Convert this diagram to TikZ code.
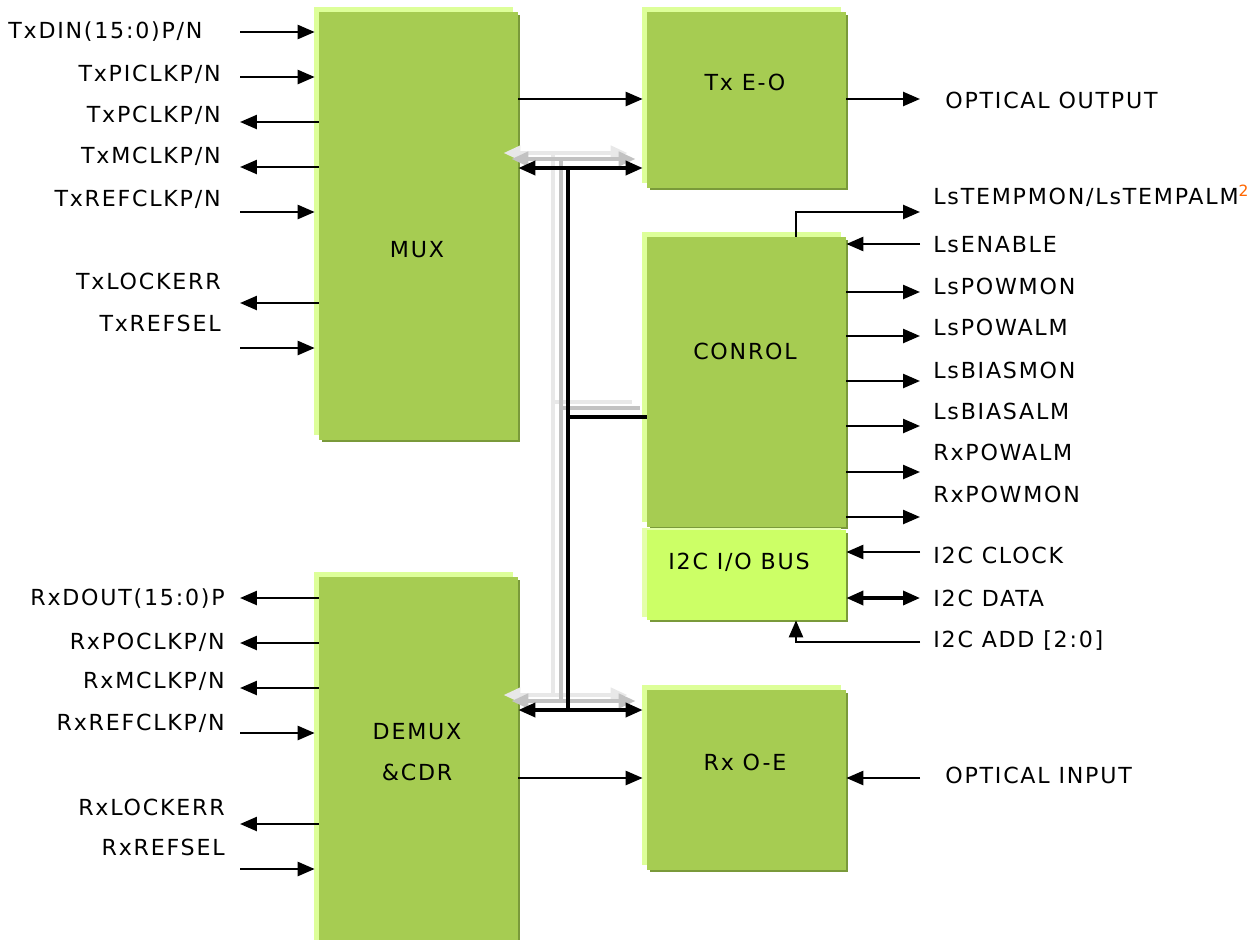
\documentclass[tikz,border=0pt]{standalone}
\usepackage{fontspec}
\setmainfont{DejaVu Sans}[LetterSpace=8]
\usetikzlibrary{arrows.meta,shadows}

\definecolor{boxgreen}{HTML}{A6CC52}
\definecolor{boxlight}{HTML}{DDFF99}
\definecolor{boxdark}{HTML}{7A9A3A}
\definecolor{i2cgreen}{HTML}{CCFF66}
\definecolor{i2clight}{HTML}{E4FFAA}
\definecolor{supnote}{HTML}{FF6600}

\tikzset{
  blk/.style={fill=boxgreen, inner sep=0pt, minimum width=3.98cm,
    general shadow={fill=boxdark, shadow xshift=0.05cm, shadow yshift=-0.05cm},
    general shadow={fill=boxlight, shadow xshift=-0.1cm, shadow yshift=0.1cm}},
  i2cblk/.style={fill=i2cgreen, inner sep=0pt, minimum width=3.98cm,
    general shadow={fill=boxdark, shadow xshift=0.05cm, shadow yshift=-0.05cm},
    general shadow={fill=i2clight, shadow xshift=-0.1cm, shadow yshift=0.05cm}},
  lbl/.style={inner sep=0pt, text height=9.2pt, text depth=0pt,
    font=\fontsize{12.6}{15}\selectfont},
  boxtxt/.style={inner sep=0pt, align=center, font=\fontsize{12.6}{23.2}\selectfont},
  sig/.style={line width=0.05cm},
  bus/.style={line width=0.07cm},
  ghost/.style={line width=0.09cm},
  tobox/.style={shorten >=0.08cm},
}

\begin{document}
\begin{tikzpicture}[x=0.02cm, y=-0.02cm,
    >={Triangle[length=0.34cm,width=0.28cm]}]
  \useasboundingbox (0,0) rectangle (1248,940);
  \clip (0,0) rectangle (1248,940);

  % blocks
  \node[blk, minimum height=8.56cm] (mux) at (418.5,226) {};
  \node[blk, minimum height=7.36cm] (demux) at (418.5,761) {};
  \node[blk, minimum height=3.52cm] (txeo) at (746.5,100) {};
  \node[blk, minimum height=5.8cm] (ctrl) at (746.5,382) {};
  \node[i2cblk, minimum height=1.8cm] (i2c) at (746.5,575) {};
  \node[blk, minimum height=3.6cm] (rxoe) at (746.5,780) {};

  \node[lbl] (muxtxt) at (417,249) {MUX};
  \node[boxtxt] (demuxtxt) at (417,752) {DEMUX\\\&CDR};
  \node[lbl] (txeotxt) at (745,82) {Tx E-O};
  \node[lbl] (ctrltxt) at (745,351) {CONROL};
  \node[lbl] (i2ctxt) at (739,561) {I2C I/O BUS};
  \node[lbl] (rxoetxt) at (745,762) {Rx O-E};

  % bus between the blocks
  \coordinate (busT) at (568,168);
  \coordinate (busM) at (568,417);
  \coordinate (busB) at (568,710);
  \coordinate (datT) at (568,99);
  \coordinate (datB) at (568,778);

  \foreach \dx/\dy/\gr in {-15/-15/9, -7/-9/24} {
    \begin{scope}[transform canvas={shift={(\dx,\dy)}}, black!\gr]
      \draw[ghost, <->, tobox] (mux.east |- busT) -- (txeo.west |- busT);
      \draw[ghost, <->, tobox] (demux.east |- busB) -- (rxoe.west |- busB);
      \draw[ghost] (busT) -- (busB);
      \draw[ghost] (busM) -- (ctrl.west |- busM);
    \end{scope}
  }

  \draw[bus, <->, tobox] (mux.east |- busT) -- (txeo.west |- busT);
  \draw[bus, <->, tobox] (demux.east |- busB) -- (rxoe.west |- busB);
  \draw[bus] (busT) -- (busB);
  \draw[bus] (busM) -- (ctrl.west |- busM);

  \draw[sig, ->, tobox] (mux.east |- datT) -- (txeo.west |- datT);
  \draw[sig, ->, tobox] (demux.east |- datB) -- (rxoe.west |- datB);

  % MUX side
  \node[lbl, anchor=west] (txdin) at (8,30) {TxDIN(15:0)P/N};
  \node[lbl, anchor=east] (txpiclk) at (221,73) {TxPICLKP/N};
  \node[lbl, anchor=east] (txpclk) at (221,114) {TxPCLKP/N};
  \node[lbl, anchor=east] (txmclk) at (221,155) {TxMCLKP/N};
  \node[lbl, anchor=east] (txrefclk) at (221,198) {TxREFCLKP/N};
  \node[lbl, anchor=east] (txlock) at (221,281) {TxLOCKERR};
  \node[lbl, anchor=east] (txrefsel) at (221,323) {TxREFSEL};

  \coordinate (txdin-e) at (240,32);
  \coordinate (txpiclk-e) at (240,77);
  \coordinate (txpclk-e) at (240,122);
  \coordinate (txmclk-e) at (240,167);
  \coordinate (txrefclk-e) at (240,212);
  \coordinate (txlock-e) at (240,303);
  \coordinate (txrefsel-e) at (240,348);

  \draw[sig, ->, tobox] (txdin-e) -- (txdin-e -| mux.west);
  \draw[sig, ->, tobox] (txpiclk-e) -- (txpiclk-e -| mux.west);
  \draw[sig, <-] (txpclk-e) -- (txpclk-e -| mux.west);
  \draw[sig, <-] (txmclk-e) -- (txmclk-e -| mux.west);
  \draw[sig, ->, tobox] (txrefclk-e) -- (txrefclk-e -| mux.west);
  \draw[sig, <-] (txlock-e) -- (txlock-e -| mux.west);
  \draw[sig, ->, tobox] (txrefsel-e) -- (txrefsel-e -| mux.west);

  % DEMUX side
  \node[lbl, anchor=east] (rxdout) at (225,597) {RxDOUT(15:0)P};
  \node[lbl, anchor=east] (rxpoclk) at (225,641) {RxPOCLKP/N};
  \node[lbl, anchor=east] (rxmclk) at (225,680) {RxMCLKP/N};
  \node[lbl, anchor=east] (rxrefclk) at (225,722) {RxREFCLKP/N};
  \node[lbl, anchor=east] (rxlock) at (225,807) {RxLOCKERR};
  \node[lbl, anchor=east] (rxrefsel) at (225,847) {RxREFSEL};

  \coordinate (rxdout-e) at (240,598);
  \coordinate (rxpoclk-e) at (240,643);
  \coordinate (rxmclk-e) at (240,688);
  \coordinate (rxrefclk-e) at (240,733);
  \coordinate (rxlock-e) at (240,824);
  \coordinate (rxrefsel-e) at (240,869);

  \draw[sig, <-] (rxdout-e) -- (rxdout-e -| demux.west);
  \draw[sig, <-] (rxpoclk-e) -- (rxpoclk-e -| demux.west);
  \draw[sig, <-] (rxmclk-e) -- (rxmclk-e -| demux.west);
  \draw[sig, ->, tobox] (rxrefclk-e) -- (rxrefclk-e -| demux.west);
  \draw[sig, <-] (rxlock-e) -- (rxlock-e -| demux.west);
  \draw[sig, ->, tobox] (rxrefsel-e) -- (rxrefsel-e -| demux.west);

  % optical side
  \node[lbl, anchor=west] (optout) at (945,100) {OPTICAL OUTPUT};
  \node[lbl, anchor=west] (optin) at (945,775) {OPTICAL INPUT};
  \coordinate (optout-e) at (920,99);
  \coordinate (optin-e) at (920,778);
  \draw[sig, ->] (optout-e -| txeo.east) -- (optout-e);
  \draw[sig, ->] (optin-e) -- (optin-e -| rxoe.east);

  % control side
  \node[lbl, anchor=west] (tempmon) at (933,196)
    {LsTEMPMON/LsTEMPALM\textsuperscript{\textcolor{supnote}{2}}};
  \node[lbl, anchor=west] (lsenable) at (933,244) {LsENABLE};
  \node[lbl, anchor=west] (powmon) at (933,286) {LsPOWMON};
  \node[lbl, anchor=west] (powalm) at (933,327) {LsPOWALM};
  \node[lbl, anchor=west] (biasmon) at (933,370) {LsBIASMON};
  \node[lbl, anchor=west] (biasalm) at (933,411) {LsBIASALM};
  \node[lbl, anchor=west] (rxpowalm) at (933,452) {RxPOWALM};
  \node[lbl, anchor=west] (rxpowmon) at (933,494) {RxPOWMON};
  \node[lbl, anchor=west] (i2cclk) at (933,555) {I2C CLOCK};
  \node[lbl, anchor=west] (i2cdata) at (933,598) {I2C DATA};
  \node[lbl, anchor=west] (i2cadd) at (933,639) {I2C ADD [2:0]};

  \coordinate (tempmon-e) at (920,212);
  \coordinate (lsenable-e) at (920,244);
  \coordinate (powmon-e) at (920,292);
  \coordinate (powalm-e) at (920,336);
  \coordinate (biasmon-e) at (920,381);
  \coordinate (biasalm-e) at (920,426);
  \coordinate (rxpowalm-e) at (920,472);
  \coordinate (rxpowmon-e) at (920,517);
  \coordinate (i2cclk-e) at (920,552);
  \coordinate (i2cdata-e) at (920,598);
  \coordinate (i2cadd-e) at (920,642);
  \coordinate (i2c-tap) at (796,642);

  \draw[sig, ->] (ctrl.north -| i2c-tap) |- (tempmon-e);
  \draw[sig, ->] (lsenable-e) -- (lsenable-e -| ctrl.east);
  \draw[sig, ->] (powmon-e -| ctrl.east) -- (powmon-e);
  \draw[sig, ->] (powalm-e -| ctrl.east) -- (powalm-e);
  \draw[sig, ->] (biasmon-e -| ctrl.east) -- (biasmon-e);
  \draw[sig, ->] (biasalm-e -| ctrl.east) -- (biasalm-e);
  \draw[sig, ->] (rxpowalm-e -| ctrl.east) -- (rxpowalm-e);
  \draw[sig, ->] (rxpowmon-e -| ctrl.east) -- (rxpowmon-e);
  \draw[sig, ->] (i2cclk-e) -- (i2cclk-e -| i2c.east);
  \draw[bus, <->] (i2cdata-e) -- (i2cdata-e -| i2c.east);
  \draw[sig, ->] (i2cadd-e) -- (i2c-tap) -- (i2c.south -| i2c-tap);
\end{tikzpicture}
\end{document}
